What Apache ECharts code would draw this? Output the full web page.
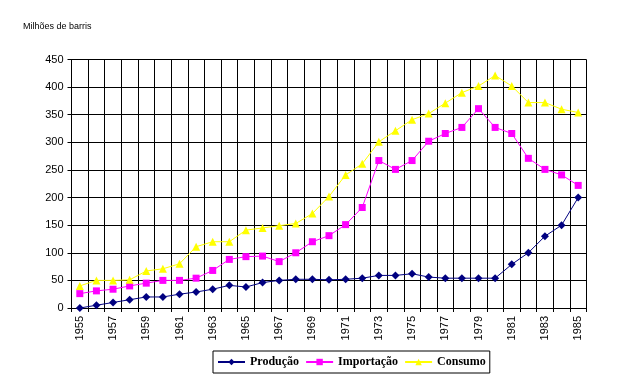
<!DOCTYPE html>
<html><head><meta charset="utf-8">
<script src="https://cdn.jsdelivr.net/npm/echarts@6/dist/echarts.min.js"></script>
<style>html,body{margin:0;padding:0;background:#fff}#c{width:632px;height:384px}</style>
</head><body><div id="c"></div>
<script>
const years = ['1955','1956','1957','1958','1959','1960','1961','1962','1963','1964','1965','1966','1967','1968','1969','1970','1971','1972','1973','1974','1975','1976','1977','1978','1979','1980','1981','1982','1983','1984','1985'];
const producao = [0,5,10,15,20,20,25,29,34,41,38,46,50,52,52,51,52,54,59,59,62,56,54,54,54,54,79,100,130,150,200];
const importacao = [26,31,34,40,45,50,50,54,68,88,93,94,84,100,120,131,151,182,267,251,267,302,316,327,361,327,316,271,251,241,222];
const consumo = [40,50,50,51,67,71,80,111,120,120,141,145,149,153,171,202,241,261,301,321,341,352,371,390,402,421,402,372,372,360,354];
const yTicks = {min:0, max:450, interval:50};

const chart = echarts.init(document.getElementById('c'), null, {renderer:'canvas'});
const lf = {fontFamily:'Liberation Serif', fontWeight:'bold', fontSize:12, color:'#000'};
chart.setOption({
  animation:false,
  backgroundColor:'#fff',
  textStyle:{fontFamily:'Liberation Sans'},
  title:{text:'Milhões de barris', left:23, top:22, padding:0, textStyle:{fontSize:9, fontWeight:'normal', color:'#000', fontFamily:'Liberation Sans'}},
  grid:{left:71.5, right:45.5, top:59.5, bottom:76, containLabel:false},
  legend:{
    top:351, left:213, itemWidth:27, itemHeight:8, itemGap:6,
    padding:[5,4,5,4], borderColor:'#000', borderWidth:1, textStyle:lf,
    data:['Produção','Importação','Consumo']
  },
  xAxis:{
    type:'category', data:years, boundaryGap:true,
    axisLine:{lineStyle:{color:'#000', width:1}},
    axisTick:{show:true, interval:0, length:4, lineStyle:{color:'#000'}},
    axisLabel:{interval:1, rotate:90, fontSize:11, color:'#000', margin:8, fontFamily:'Liberation Sans'},
    splitLine:{show:true, interval:0, lineStyle:{color:'#000', width:1}}
  },
  yAxis:{
    type:'value', min:yTicks.min, max:yTicks.max, interval:yTicks.interval,
    axisLine:{show:true, lineStyle:{color:'#000', width:1}},
    axisTick:{show:true, length:4, lineStyle:{color:'#000'}},
    axisLabel:{fontSize:11, color:'#000', margin:8, fontFamily:'Liberation Sans'},
    splitLine:{show:true, lineStyle:{color:'#000', width:1}}
  },
  series:[
    {name:'Produção', type:'line', data:producao, symbol:'diamond', symbolSize:8,
     lineStyle:{color:'#000080', width:1}, itemStyle:{color:'#000080'}},
    {name:'Importação', type:'line', data:importacao, symbol:'rect', symbolSize:7,
     lineStyle:{color:'#FF00FF', width:1}, itemStyle:{color:'#FF00FF'}},
    {name:'Consumo', type:'line', data:consumo, symbol:'triangle', symbolSize:8,
     lineStyle:{color:'#FFFF00', width:1}, itemStyle:{color:'#FFFF00'}}
  ]
});
</script></body></html>
